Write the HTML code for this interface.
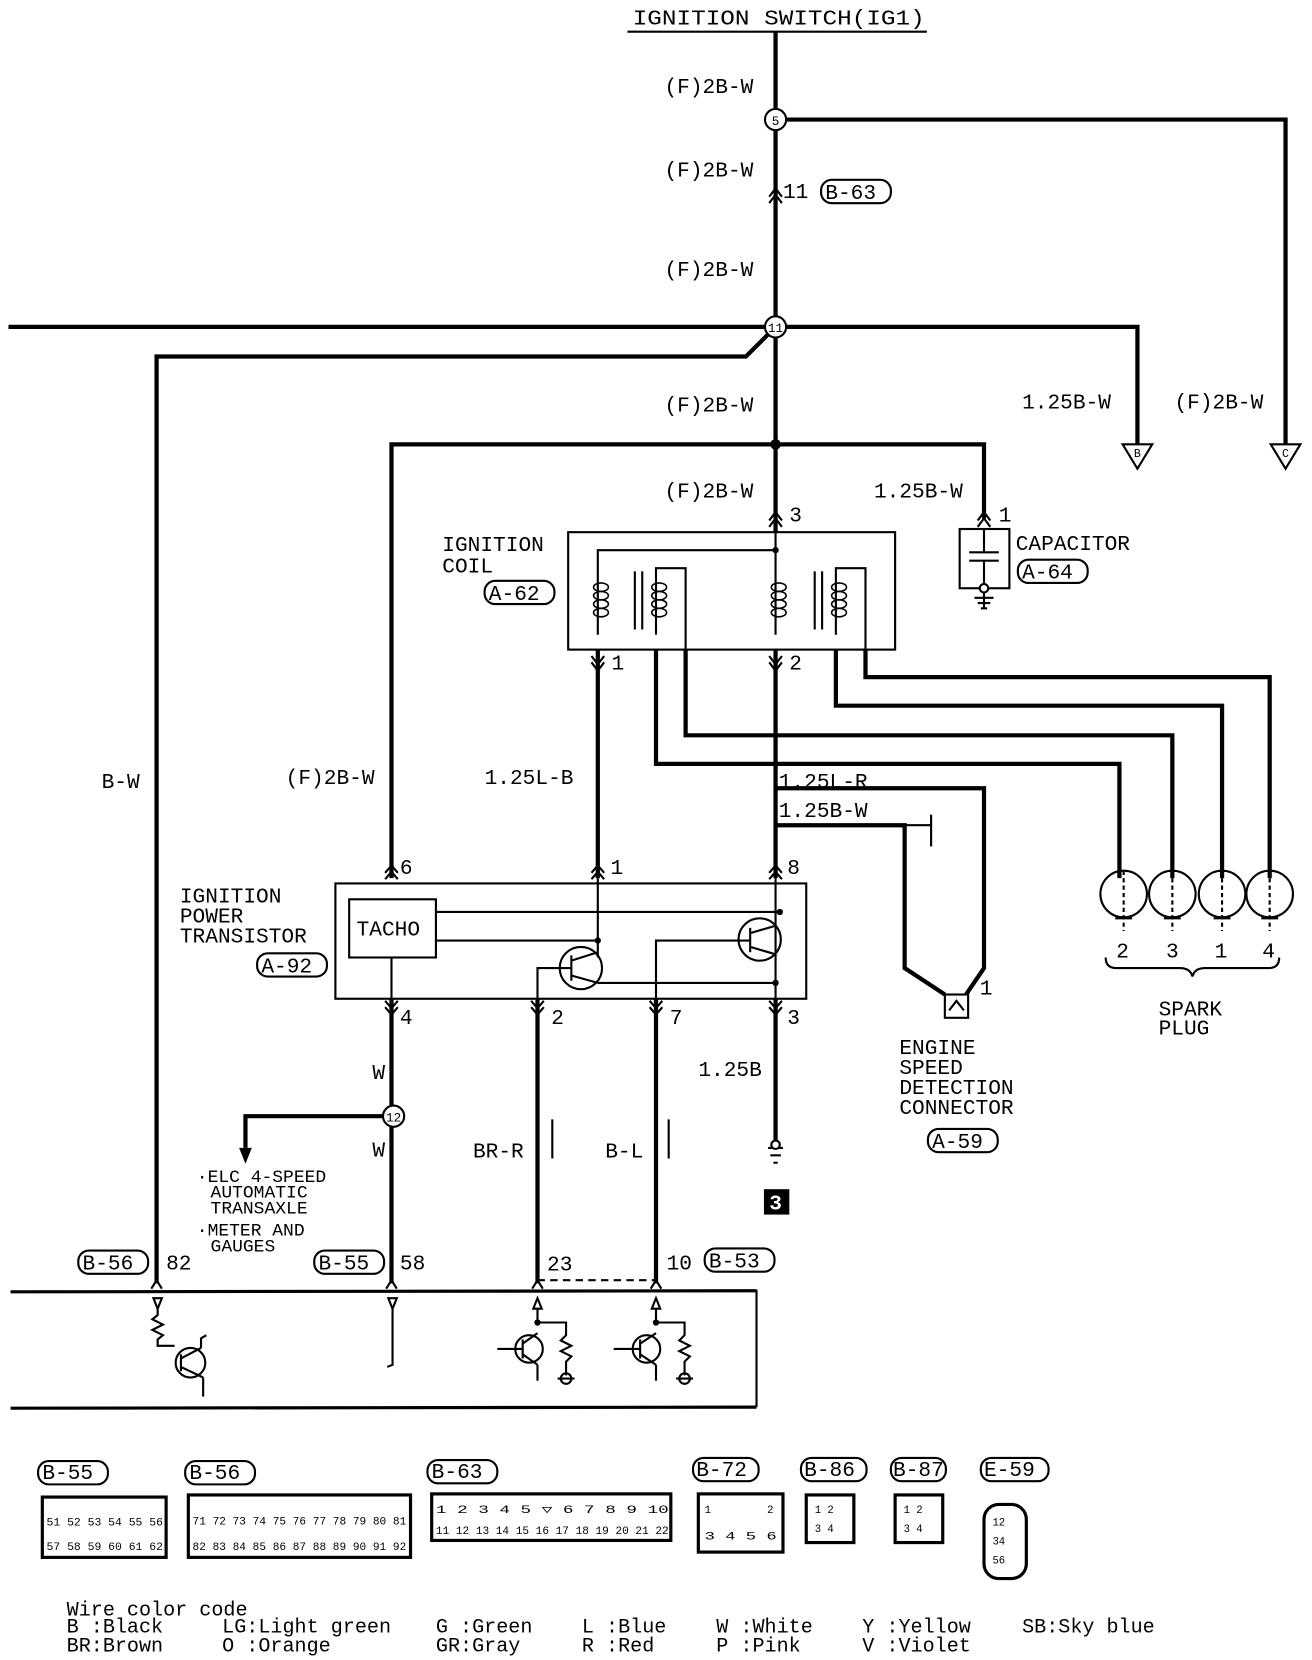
<!DOCTYPE html>
<html><head><meta charset="utf-8"><style>
html,body{margin:0;padding:0;background:#fff;}
svg{display:block}
text{font-family:"Liberation Mono",monospace;fill:#000}
</style></head><body>
<svg width="1312" height="1660" viewBox="0 0 1240 1569" preserveAspectRatio="none" xmlns="http://www.w3.org/2000/svg">
<g font-size="20">
<!-- title -->
<text x="598" y="23" textLength="276" lengthAdjust="spacingAndGlyphs">IGNITION SWITCH(IG1)</text>
<line x1="593" y1="30" x2="876" y2="30" stroke="#000" stroke-width="2"/>
<g stroke="#000" stroke-width="4" fill="none">
<!-- main vertical -->
<line x1="733" y1="30" x2="733" y2="503"/>
<polyline points="733,113 1215,113 1215,420"/>
<polyline points="8,309 1075,309 1075,420"/>
<polyline points="733,309 705,337 148,337 148,1213"/>
<polyline points="370,830 370,420 930,420 930,490"/>
<!-- coil outputs -->
<line x1="565" y1="614" x2="565" y2="830"/>
<polyline points="620,614 620,722 1058,722 1058,830"/>
<polyline points="648,614 648,695 1108,695 1108,830"/>
<polyline points="790,614 790,667 1155,667 1155,830"/>
<polyline points="818,614 818,640 1200,640 1200,830"/>
<polyline points="733,614 733,745 930,745 930,915 913,940"/>
<polyline points="733,745 733,830"/>
<polyline points="733,780 855,780 855,915 893,940"/>
<!-- below transistor -->
<line x1="370" y1="944" x2="370" y2="1213"/>
<line x1="508" y1="944" x2="508" y2="1213"/>
<line x1="620" y1="944" x2="620" y2="1213"/>
<line x1="733" y1="944" x2="733" y2="1080"/>
<polyline points="362,1055 232,1055 232,1085"/>
</g>
<polygon points="226,1085 238,1085 232,1100" fill="#000"/>
<!-- junction dots & circles -->
<circle cx="733" cy="420" r="5"/>
<g fill="#fff" stroke="#000" stroke-width="2">
<circle cx="733" cy="113" r="10"/><circle cx="733" cy="309" r="10"/><circle cx="372" cy="1055" r="10"/>
</g>
<g font-size="12" text-anchor="middle"><text x="733" y="118">5</text><text x="733" y="314">11</text><text x="372" y="1060">12</text></g>
<!-- arrows B, C -->
<g fill="#fff" stroke="#000" stroke-width="2">
<polygon points="1061,420 1089,420 1075,443"/><polygon points="1201,420 1229,420 1215,443"/>
</g>
<g font-size="11" text-anchor="middle"><text x="1075" y="432">B</text><text x="1215" y="432">C</text></g>
<!-- wire labels -->
<text x="628" y="88">(F)2B-W</text>
<text x="628" y="167">(F)2B-W</text>
<text x="628" y="261">(F)2B-W</text>
<text x="628" y="389">(F)2B-W</text>
<text x="628" y="470">(F)2B-W</text>
<text x="966" y="386">1.25B-W</text>
<text x="1110" y="386">(F)2B-W</text>
<text x="826" y="470">1.25B-W</text>
<text x="740" y="187">11</text>
<rect x="776" y="170" width="66" height="22" rx="10" fill="none" stroke="#000" stroke-width="2"/>
<text x="780" y="188">B-63</text>
<text x="96" y="745">B-W</text>
<text x="270" y="741">(F)2B-W</text>
<text x="458" y="741">1.25L-B</text>
<text x="736" y="745">1.25L-R</text>
<text x="736" y="772">1.25B-W</text>
<text x="660" y="1017">1.25B</text>
<text x="352" y="1020">W</text>
<text x="352" y="1093">W</text>
<text x="447" y="1094">BR-R</text>
<text x="572" y="1094">B-L</text>
<line x1="522" y1="1058" x2="522" y2="1095" stroke="#000" stroke-width="2"/>
<line x1="632" y1="1058" x2="632" y2="1095" stroke="#000" stroke-width="2"/>
<!-- ignition coil -->
<rect x="537" y="503" width="309" height="111" fill="none" stroke="#000" stroke-width="2"/>
<polyline points="565,600 565,520 733,520" fill="none" stroke="#000" stroke-width="2"/>
<circle cx="733" cy="520" r="3"/>
<g fill="none" stroke="#000" stroke-width="2">
<line x1="733" y1="503" x2="733" y2="600"/>
<polyline points="620,600 620,537 648,537 648,614"/>
<polyline points="790,600 790,537 818,537 818,614"/>
<line x1="600" y1="540" x2="600" y2="595"/><line x1="607" y1="540" x2="607" y2="595"/>
<line x1="770" y1="540" x2="770" y2="595"/><line x1="777" y1="540" x2="777" y2="595"/>
<g stroke-width="1.5">
<ellipse cx="568" cy="555" rx="7" ry="4"/><ellipse cx="568" cy="563" rx="7" ry="4"/><ellipse cx="568" cy="571" rx="7" ry="4"/><ellipse cx="568" cy="579" rx="7" ry="4"/>
<ellipse cx="623" cy="555" rx="7" ry="4"/><ellipse cx="623" cy="563" rx="7" ry="4"/><ellipse cx="623" cy="571" rx="7" ry="4"/><ellipse cx="623" cy="579" rx="7" ry="4"/>
<ellipse cx="736" cy="555" rx="7" ry="4"/><ellipse cx="736" cy="563" rx="7" ry="4"/><ellipse cx="736" cy="571" rx="7" ry="4"/><ellipse cx="736" cy="579" rx="7" ry="4"/>
<ellipse cx="793" cy="555" rx="7" ry="4"/><ellipse cx="793" cy="563" rx="7" ry="4"/><ellipse cx="793" cy="571" rx="7" ry="4"/><ellipse cx="793" cy="579" rx="7" ry="4"/>
</g>
<polyline points="727,498 733,490 739,498"/><polyline points="727,492 733,484 739,492"/>
<polyline points="924,498 930,490 936,498"/><polyline points="924,492 930,484 936,492"/>
<polyline points="559,620 565,628 571,620"/><polyline points="559,626 565,634 571,626"/>
<polyline points="727,620 733,628 739,620"/><polyline points="727,626 733,634 739,626"/>
<polyline points="727,186 733,178 739,186"/><polyline points="727,192 733,184 739,192"/>
</g>
<text x="746" y="493">3</text><text x="944" y="493">1</text>
<text x="578" y="633">1</text><text x="746" y="633">2</text>
<text x="418" y="521">IGNITION</text><text x="418" y="541">COIL</text>
<rect x="458" y="549" width="66" height="22" rx="10" fill="none" stroke="#000" stroke-width="2"/>
<text x="462" y="567">A-62</text>
<!-- capacitor -->
<g fill="none" stroke="#000" stroke-width="2">
<rect x="907" y="500" width="47" height="56"/>
<line x1="930" y1="500" x2="930" y2="522"/>
<line x1="916" y1="522" x2="944" y2="522"/><line x1="916" y1="530" x2="944" y2="530"/>
<line x1="930" y1="530" x2="930" y2="575"/>
<line x1="921" y1="565" x2="939" y2="565"/><line x1="924" y1="570" x2="936" y2="570"/><line x1="927" y1="575" x2="933" y2="575"/>
</g>
<circle cx="930" cy="556" r="4" fill="#fff" stroke="#000" stroke-width="2"/>
<text x="960" y="520">CAPACITOR</text>
<rect x="962" y="529" width="66" height="22" rx="10" fill="none" stroke="#000" stroke-width="2"/>
<text x="966" y="547">A-64</text>
<!-- spark plugs -->
<g fill="none" stroke="#000" stroke-width="2">
<circle cx="1062" cy="845" r="22"/><circle cx="1108" cy="845" r="22"/><circle cx="1155" cy="845" r="22"/><circle cx="1200" cy="845" r="22"/>
<line x1="1062" y1="823" x2="1062" y2="880" stroke-dasharray="4,3"/><line x1="1108" y1="823" x2="1108" y2="880" stroke-dasharray="4,3"/>
<line x1="1155" y1="823" x2="1155" y2="880" stroke-dasharray="4,3"/><line x1="1200" y1="823" x2="1200" y2="880" stroke-dasharray="4,3"/>
<path d="M1045,905 q0,10 10,10 h60 q10,0 12,8 q2,-8 12,-8 h60 q10,0 10,-10"/>
<line x1="855" y1="780" x2="880" y2="780"/>
<polyline points="880,770 880,800"/>
</g>
<g stroke="#000" stroke-width="2"><line x1="1054" y1="868" x2="1070" y2="868"/><line x1="1100" y1="868" x2="1116" y2="868"/><line x1="1147" y1="868" x2="1163" y2="868"/><line x1="1192" y1="868" x2="1208" y2="868"/></g>
<text x="1055" y="905">2</text><text x="1102" y="905">3</text><text x="1148" y="905">1</text><text x="1193" y="905">4</text>
<text x="1095" y="960">SPARK</text><text x="1095" y="978">PLUG</text>
<!-- engine speed connector -->
<rect x="893" y="940" width="22" height="22" fill="#fff" stroke="#000" stroke-width="2"/>
<polyline points="897,955 904,946 911,955" fill="none" stroke="#000" stroke-width="2"/>
<text x="926" y="940">1</text>
<text x="850" y="996">ENGINE</text><text x="850" y="1015">SPEED</text><text x="850" y="1034">DETECTION</text><text x="850" y="1053">CONNECTOR</text>
<rect x="877" y="1067" width="66" height="22" rx="10" fill="none" stroke="#000" stroke-width="2"/>
<text x="881" y="1085">A-59</text>
<!-- ignition power transistor -->
<rect x="317" y="835" width="445" height="109" fill="none" stroke="#000" stroke-width="2"/>
<rect x="330" y="850" width="82" height="55" fill="#fff" stroke="#000" stroke-width="2"/>
<text x="337" y="884">TACHO</text>
<g fill="none" stroke="#000" stroke-width="2">
<line x1="412" y1="862" x2="737" y2="862"/><line x1="412" y1="889" x2="565" y2="889"/>
<line x1="565" y1="830" x2="565" y2="905"/>
<line x1="733" y1="830" x2="733" y2="944"/>
<line x1="370" y1="905" x2="370" y2="944"/>
<circle cx="549" cy="915" r="20"/><circle cx="718" cy="888" r="20"/>
<polyline points="508,944 508,915 540,915"/><line x1="540" y1="903" x2="540" y2="927"/>
<line x1="540" y1="908" x2="565" y2="900"/><line x1="540" y1="922" x2="565" y2="929"/>
<line x1="565" y1="929" x2="733" y2="929"/>
<polyline points="620,944 620,889 709,889"/><line x1="709" y1="877" x2="709" y2="900"/>
<line x1="709" y1="882" x2="733" y2="875"/><line x1="709" y1="895" x2="733" y2="902"/>
<polyline points="364,825 370,818 376,825"/><polyline points="364,831 370,824 376,831"/>
<polyline points="559,825 565,818 571,825"/><polyline points="559,831 565,824 571,831"/>
<polyline points="727,825 733,818 739,825"/><polyline points="727,831 733,824 739,831"/>
<polyline points="364,946 370,953 376,946"/><polyline points="364,952 370,959 376,952"/>
<polyline points="502,946 508,953 514,946"/><polyline points="502,952 508,959 514,952"/>
<polyline points="614,946 620,953 626,946"/><polyline points="614,952 620,959 626,952"/>
<polyline points="727,946 733,953 739,946"/><polyline points="727,952 733,959 739,952"/>
</g>
<circle cx="565" cy="889" r="3"/><circle cx="737" cy="862" r="3"/><circle cx="733" cy="929" r="3"/>
<text x="378" y="826">6</text><text x="577" y="826">1</text><text x="744" y="826">8</text>
<text x="378" y="968">4</text><text x="521" y="968">2</text><text x="633" y="968">7</text><text x="744" y="968">3</text>
<text x="170" y="853">IGNITION</text><text x="170" y="872">POWER</text><text x="170" y="891">TRANSISTOR</text>
<rect x="243" y="901" width="66" height="22" rx="10" fill="none" stroke="#000" stroke-width="2"/>
<text x="247" y="919">A-92</text>
<!-- ground 3 -->
<g stroke="#000" stroke-width="2"><line x1="726" y1="1085" x2="740" y2="1085"/><line x1="728" y1="1092" x2="738" y2="1092"/><line x1="731" y1="1099" x2="735" y2="1099"/></g>
<circle cx="733" cy="1082" r="4" fill="#fff" stroke="#000" stroke-width="2"/>
<rect x="722" y="1124" width="24" height="24" fill="#000"/>
<text x="727" y="1143" fill="#fff" style="fill:#fff;font-weight:bold">3</text>
<g font-size="17">
<text x="186" y="1117">·ELC 4-SPEED</text><text x="199" y="1132">AUTOMATIC</text><text x="199" y="1147">TRANSAXLE</text>
<text x="186" y="1168">·METER AND</text><text x="199" y="1183">GAUGES</text>
</g>
<!-- connector labels -->
<rect x="74" y="1182" width="66" height="22" rx="10" fill="none" stroke="#000" stroke-width="2"/><text x="78" y="1200">B-56</text><text x="157" y="1200">82</text>
<rect x="297" y="1182" width="66" height="22" rx="10" fill="none" stroke="#000" stroke-width="2"/><text x="301" y="1200">B-55</text><text x="378" y="1200">58</text>
<text x="517" y="1201">23</text>
<text x="630" y="1200">10</text>
<rect x="666" y="1180" width="66" height="22" rx="10" fill="none" stroke="#000" stroke-width="2"/><text x="670" y="1198">B-53</text>
<line x1="508" y1="1210" x2="620" y2="1210" stroke="#000" stroke-width="2" stroke-dasharray="7,5"/>
<!-- ECU box -->
<g fill="none" stroke="#000" stroke-width="2">
<polyline points="10,1221 715,1220 715,1330"/>
<line x1="10" y1="1331" x2="715" y2="1330" stroke-width="3"/>
<line x1="10" y1="1221" x2="715" y2="1220" stroke-width="3"/>
<polyline points="143,1218 148,1210 153,1218"/><polyline points="365,1218 370,1210 375,1218"/>
<polyline points="503,1218 508,1210 513,1218"/><polyline points="615,1218 620,1210 625,1218"/>
<polygon points="145,1227 153,1227 149,1237"/><polygon points="367,1227 375,1227 371,1237"/>
<polygon points="504,1237 512,1237 508,1227"/><polygon points="616,1237 624,1237 620,1227"/>
<polyline points="149,1237 149,1243 144,1247 154,1252 144,1257 154,1262 149,1266 149,1272 165,1272"/>
<circle cx="180" cy="1288" r="14"/><line x1="171" y1="1280" x2="171" y2="1296"/>
<line x1="171" y1="1284" x2="190" y2="1274"/><polyline points="190,1274 190,1265 195,1262"/>
<line x1="171" y1="1292" x2="192" y2="1302"/><line x1="192" y1="1302" x2="192" y2="1320"/>
<polyline points="371,1237 371,1290 366,1292"/>
<polyline points="508,1237 508,1250 535,1250 535,1262 530,1267 540,1272 530,1277 540,1282 535,1287 535,1300"/>
<circle cx="500" cy="1275" r="13"/><line x1="494" y1="1266" x2="494" y2="1284"/>
<line x1="470" y1="1275" x2="494" y2="1275"/><line x1="494" y1="1270" x2="508" y2="1260"/><line x1="494" y1="1280" x2="508" y2="1290"/>
<line x1="508" y1="1290" x2="508" y2="1305"/>
<circle cx="535" cy="1303" r="5"/><line x1="527" y1="1303" x2="543" y2="1303"/>
<polyline points="620,1237 620,1250 647,1250 647,1262 642,1267 652,1272 642,1277 652,1282 647,1287 647,1300"/>
<circle cx="611" cy="1275" r="13"/><line x1="605" y1="1266" x2="605" y2="1284"/>
<line x1="580" y1="1275" x2="605" y2="1275"/><line x1="605" y1="1270" x2="620" y2="1260"/><line x1="605" y1="1280" x2="620" y2="1290"/>
<line x1="620" y1="1290" x2="620" y2="1305"/>
<circle cx="647" cy="1303" r="5"/><line x1="639" y1="1303" x2="655" y2="1303"/>
</g>
<circle cx="508" cy="1250" r="3"/><circle cx="620" cy="1250" r="3"/>
<!-- connector diagrams -->
<g fill="none" stroke="#000" stroke-width="2">
<rect x="36" y="1381" width="66" height="22" rx="10"/><rect x="175" y="1381" width="66" height="22" rx="10"/>
<rect x="404" y="1380" width="66" height="22" rx="10"/><rect x="655" y="1378" width="62" height="22" rx="10"/>
<rect x="757" y="1378" width="62" height="22" rx="10"/><rect x="842" y="1378" width="52" height="22" rx="10"/>
<rect x="927" y="1378" width="64" height="22" rx="10"/>
<rect x="40" y="1415" width="117" height="57" stroke-width="3"/>
<rect x="178" y="1413" width="210" height="59" stroke-width="3"/>
<rect x="408" y="1412" width="226" height="44" stroke-width="3"/>
<rect x="660" y="1412" width="80" height="55" stroke-width="3"/>
<rect x="762" y="1413" width="45" height="45" stroke-width="3"/>
<rect x="846" y="1413" width="45" height="45" stroke-width="3"/>
<rect x="930" y="1422" width="40" height="70" rx="14" stroke-width="3"/>
</g>
<g font-size="10">
<text x="44" y="1442" textLength="110" lengthAdjust="spacingAndGlyphs">51 52 53 54 55 56</text>
<text x="44" y="1465" textLength="110" lengthAdjust="spacingAndGlyphs">57 58 59 60 61 62</text>
<text x="182" y="1441" textLength="202" lengthAdjust="spacingAndGlyphs">71 72 73 74 75 76 77 78 79 80 81</text>
<text x="182" y="1465" textLength="202" lengthAdjust="spacingAndGlyphs">82 83 84 85 86 87 88 89 90 91 92</text>
<text x="412" y="1430" textLength="220" lengthAdjust="spacingAndGlyphs">1 2 3 4 5 ▽ 6 7 8 9 10</text>
<text x="412" y="1450" textLength="220" lengthAdjust="spacingAndGlyphs">11 12 13 14 15 16 17 18 19 20 21 22</text>
<text x="666" y="1430">1</text><text x="725" y="1430">2</text>
<text x="666" y="1455" textLength="68" lengthAdjust="spacingAndGlyphs">3 4 5 6</text>
<text x="770" y="1430">1 2</text><text x="770" y="1448">3 4</text>
<text x="854" y="1430">1 2</text><text x="854" y="1448">3 4</text>
<text x="938" y="1442">12</text><text x="938" y="1460">34</text><text x="938" y="1478">56</text>
</g>
<text x="40" y="1398">B-55</text><text x="179" y="1398">B-56</text><text x="408" y="1397">B-63</text>
<text x="658" y="1395">B-72</text><text x="760" y="1395">B-86</text><text x="844" y="1395">B-87</text><text x="930" y="1395">E-59</text>
<!-- legend -->
<g font-size="19">
<text x="63" y="1527">Wire color code</text>
<text x="63" y="1543">B :Black</text><text x="210" y="1543">LG:Light green</text>
<text x="412" y="1543">G :Green</text><text x="550" y="1543">L :Blue</text><text x="677" y="1543">W :White</text>
<text x="815" y="1543">Y :Yellow</text><text x="966" y="1543">SB:Sky blue</text>
<text x="63" y="1561">BR:Brown</text><text x="210" y="1561">O :Orange</text>
<text x="412" y="1561">GR:Gray</text><text x="550" y="1561">R :Red</text><text x="677" y="1561">P :Pink</text>
<text x="815" y="1561">V :Violet</text>
</g>
</g>
</svg>
</body></html>
